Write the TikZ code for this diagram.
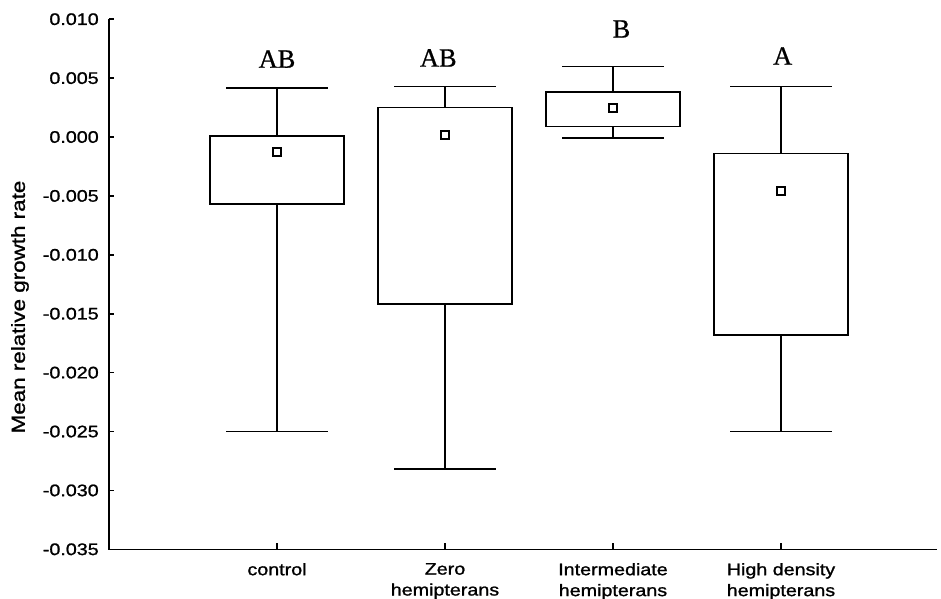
\documentclass[tikz,border=0pt]{standalone}
\usepackage{fontspec}
\newfontfamily\plotfont[FakeStretch=1.18, FakeBold=1.2]{Liberation Sans}
\newfontfamily\groupfont[FakeBold=0.8]{Liberation Serif}
\usetikzlibrary{positioning}

\tikzset{
    boxline/.style={draw=black, line width=1pt},
    whisker/.style={draw=black, line width=0.9pt},
    meanmark/.style={draw=black, fill=white, rectangle, minimum size=4.6pt, inner sep=0pt, line width=1.1pt},
    ticklabel/.style={anchor=east, inner sep=0pt, font=\plotfont\fontsize{9.5}{11}\selectfont},
    catlabel/.style={anchor=north, align=center, inner sep=0pt, font=\plotfont\fontsize{9.5}{11.9}\selectfont},
    grouplabel/.style={inner sep=0pt, font=\groupfont\fontsize{15}{15}\selectfont}
}

\begin{document}
\begin{tikzpicture}[x=3.36cm, y=0.2356cm, line width=0.9pt]
        \useasboundingbox (-0.6488,-39.14) rectangle (4.9524,11.632);

        % axes
        \coordinate (ytop)   at (0,10);
        \coordinate (origin) at (0,-35);
        \coordinate (xend)   at (4.929,-35);
        \draw[whisker] (ytop) -- (origin) -- (xend);

        \foreach \v/\t in {10/0.010, 5/0.005, 0/0.000, -5/-0.005, -10/-0.010,
                           -15/-0.015, -20/-0.020, -25/-0.025, -30/-0.030, -35/-0.035} {
            \draw[whisker] (0,\v) -- ++(0.1cm,0);
            \node[ticklabel] at ([xshift=-0.19cm]0,\v) {\t};
        }

        \node[rotate=90, inner sep=0pt, font=\plotfont\fontsize{10.8}{12}\selectfont]
            (ylab) at (-0.530,-14.43) {Mean relative growth rate};

        % categories
        \coordinate (t1) at (1,-35);
        \coordinate (t2) at (2,-35);
        \coordinate (t3) at (3,-35);
        \coordinate (t4) at (4,-35);
        \draw[whisker] (t1) -- ++(0,0.12cm);
        \draw[whisker] (t2) -- ++(0,0.12cm);
        \draw[whisker] (t3) -- ++(0,0.12cm);
        \draw[whisker] (t4) -- ++(0,0.12cm);
        \node[catlabel] (l1) at ([yshift=-0.26cm]t1) {control};
        \node[catlabel] (l2) at ([yshift=-0.26cm]t2) {Zero\\hemipterans};
        \node[catlabel] (l3) at ([yshift=-0.26cm]t3) {Intermediate\\hemipterans};
        \node[catlabel] (l4) at ([yshift=-0.26cm]t4) {High density\\hemipterans};

        % control
        \coordinate (ctlhi)  at (1,4.15);
        \coordinate (ctltop) at (1,0.1);
        \coordinate (ctlbot) at (1,-5.7);
        \coordinate (ctllo)  at (1,-25.0);
        \draw[whisker] (ctltop) -- (ctlhi);
        \draw[whisker] (ctlbot) -- (ctllo);
        \draw[whisker] ([xshift=-1.02cm]ctlhi) -- ([xshift=1.02cm]ctlhi);
        \draw[whisker] ([xshift=-1.02cm]ctllo) -- ([xshift=1.02cm]ctllo);
        \draw[boxline] ([xshift=-1.34cm]ctltop) rectangle ([xshift=1.34cm]ctlbot);
        \node[meanmark] (ctlmean) at (1,-1.3) {};
        \node[grouplabel] (ctlgrp) at (1,6.62) {AB};

        % zero
        \coordinate (zerhi)  at (2,4.3);
        \coordinate (zertop) at (2,2.5);
        \coordinate (zerbot) at (2,-14.2);
        \coordinate (zerlo)  at (2,-28.2);
        \draw[whisker] (zertop) -- (zerhi);
        \draw[whisker] (zerbot) -- (zerlo);
        \draw[whisker] ([xshift=-1.02cm]zerhi) -- ([xshift=1.02cm]zerhi);
        \draw[whisker] ([xshift=-1.02cm]zerlo) -- ([xshift=1.02cm]zerlo);
        \draw[boxline] ([xshift=-1.34cm]zertop) rectangle ([xshift=1.34cm]zerbot);
        \node[meanmark] (zermean) at (2,0.2) {};
        \node[grouplabel] (zergrp) at (1.96,6.71) {AB};

        % intermediate
        \coordinate (inthi)  at (3,6.0);
        \coordinate (inttop) at (3,3.8);
        \coordinate (intbot) at (3,0.9);
        \coordinate (intlo)  at (3,-0.1);
        \draw[whisker] (inttop) -- (inthi);
        \draw[whisker] (intbot) -- (intlo);
        \draw[whisker] ([xshift=-1.02cm]inthi) -- ([xshift=1.02cm]inthi);
        \draw[whisker] ([xshift=-1.02cm]intlo) -- ([xshift=1.02cm]intlo);
        \draw[boxline] ([xshift=-1.34cm]inttop) rectangle ([xshift=1.34cm]intbot);
        \node[meanmark] (intmean) at (3,2.45) {};
        \node[grouplabel] (intgrp) at (3.05,9.17) {B};

        % high density
        \coordinate (highhi)  at (4,4.3);
        \coordinate (hightop) at (4,-1.4);
        \coordinate (highbot) at (4,-16.8);
        \coordinate (highlo)  at (4,-25.0);
        \draw[whisker] (hightop) -- (highhi);
        \draw[whisker] (highbot) -- (highlo);
        \draw[whisker] ([xshift=-1.02cm]highhi) -- ([xshift=1.02cm]highhi);
        \draw[whisker] ([xshift=-1.02cm]highlo) -- ([xshift=1.02cm]highlo);
        \draw[boxline] ([xshift=-1.34cm]hightop) rectangle ([xshift=1.34cm]highbot);
        \node[meanmark] (highmean) at (4,-4.6) {};
        \node[grouplabel] (highgrp) at (4.01,6.88) {A};
    \end{tikzpicture}
\end{document}
